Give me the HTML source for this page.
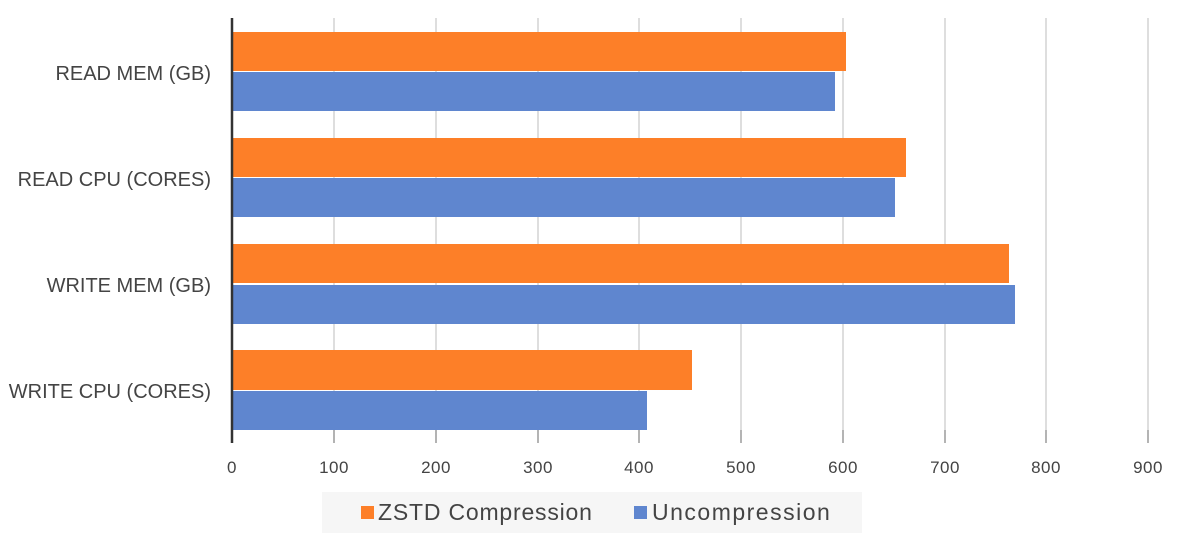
<!DOCTYPE html>
<html><head><style>html,body{margin:0;padding:0;background:#fff}svg{display:block}</style></head><body>
<svg width="1180" height="542" xmlns="http://www.w3.org/2000/svg" font-family="Liberation Sans, sans-serif">
<rect width="1180" height="542" fill="#fff"/>
<g stroke="#c8c8c8" stroke-width="1.2">
<line x1="334" y1="18" x2="334" y2="443"/><line x1="436" y1="18" x2="436" y2="443"/><line x1="538" y1="18" x2="538" y2="443"/><line x1="639" y1="18" x2="639" y2="443"/><line x1="741" y1="18" x2="741" y2="443"/><line x1="843" y1="18" x2="843" y2="443"/><line x1="945" y1="18" x2="945" y2="443"/><line x1="1046" y1="18" x2="1046" y2="443"/><line x1="1148" y1="18" x2="1148" y2="443"/>
</g>
<g stroke="#888" stroke-width="1.2">
<line x1="334" y1="430" x2="334" y2="443"/><line x1="436" y1="430" x2="436" y2="443"/><line x1="538" y1="430" x2="538" y2="443"/><line x1="639" y1="430" x2="639" y2="443"/><line x1="741" y1="430" x2="741" y2="443"/><line x1="843" y1="430" x2="843" y2="443"/><line x1="945" y1="430" x2="945" y2="443"/><line x1="1046" y1="430" x2="1046" y2="443"/><line x1="1148" y1="430" x2="1148" y2="443"/>
</g>
<g fill="#fd7f28">
<rect x="232" y="32" width="614" height="39"/><rect x="232" y="138" width="674" height="39"/><rect x="232" y="244" width="777" height="39"/><rect x="232" y="350" width="460" height="40"/>
</g>
<g fill="#5f86cf">
<rect x="232" y="72" width="603" height="39"/><rect x="232" y="178" width="663" height="39"/><rect x="232" y="285" width="783" height="39"/><rect x="232" y="391" width="415" height="39"/>
</g>
<line x1="232" y1="18" x2="232" y2="443" stroke="#333" stroke-width="2.5"/>
<g font-size="20" fill="#444" text-anchor="end">
<text x="211" y="80">READ MEM (GB)</text><text x="211" y="186">READ CPU (CORES)</text><text x="211" y="292">WRITE MEM (GB)</text><text x="211" y="398">WRITE CPU (CORES)</text>
</g>
<g font-size="17" fill="#444" text-anchor="middle" letter-spacing="0.5">
<text x="232" y="473">0</text><text x="334" y="473">100</text><text x="436" y="473">200</text><text x="538" y="473">300</text><text x="639" y="473">400</text><text x="741" y="473">500</text><text x="843" y="473">600</text><text x="945" y="473">700</text><text x="1046" y="473">800</text><text x="1148" y="473">900</text>
</g>
<rect x="322" y="492" width="540" height="41" fill="#f6f6f6"/>
<rect x="361" y="506" width="13" height="13" fill="#fd7f28"/>
<text x="378" y="520" font-size="23" fill="#444" letter-spacing="0.8">ZSTD Compression</text>
<rect x="634" y="506" width="13" height="13" fill="#5f86cf"/>
<text x="652" y="520" font-size="23" fill="#444" letter-spacing="1.5">Uncompression</text>
</svg>
</body></html>
